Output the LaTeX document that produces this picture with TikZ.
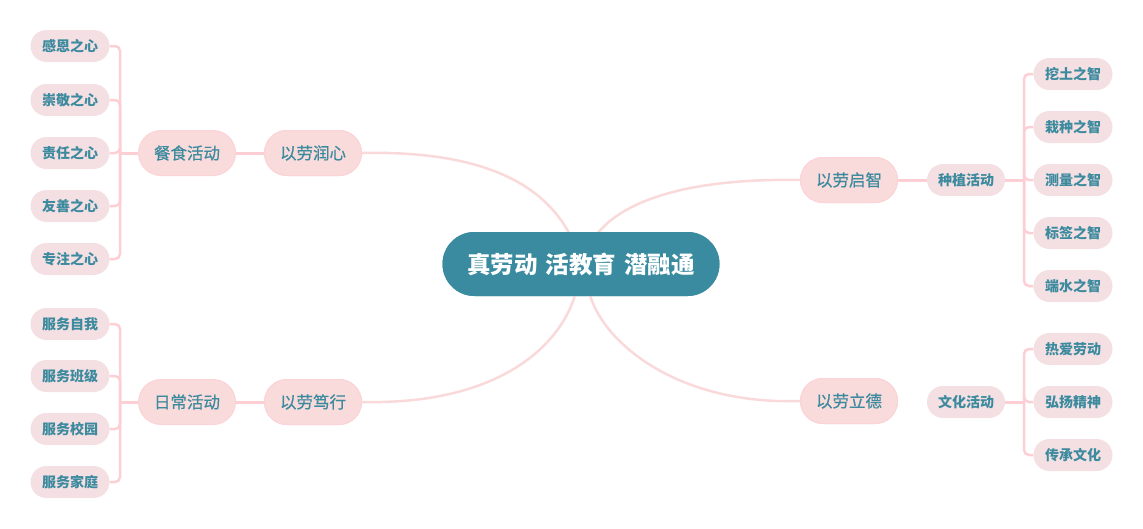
\documentclass[tikz,border=0pt]{standalone}
\usepackage{fontspec}
\setmainfont{Noto Sans CJK SC}
\newfontfamily\medf[FakeBold=0.5]{Noto Sans CJK SC}
\usetikzlibrary{calc}
\definecolor{rootc}{HTML}{3A8BA0}
\definecolor{txtc}{HTML}{3B8A9E}
\definecolor{mainc}{HTML}{FADBDB}
\definecolor{mainb}{HTML}{FCD3D6}
\definecolor{leafc}{HTML}{F4DFE3}
\definecolor{brc}{HTML}{FDCFD4}
\definecolor{curvc}{HTML}{F9D9D9}
\tikzset{
  root/.style={fill=rootc,text=white,font=\bfseries\fontsize{23.5}{27}\selectfont,minimum width=277pt,minimum height=64pt,rounded corners=32pt,inner sep=0pt},
  mainn/.style={fill=mainc,draw=mainb,line width=1pt,text=txtc,font=\medf\fontsize{16.5}{19}\selectfont,minimum width=97pt,minimum height=45pt,rounded corners=22.5pt,inner sep=0pt},
  subn/.style={fill=leafc,text=txtc,font=\bfseries\fontsize{14}{16}\selectfont,minimum width=78pt,minimum height=32pt,rounded corners=16pt,inner sep=0pt},
  leafn/.style={fill=leafc,text=txtc,font=\bfseries\fontsize{14}{16}\selectfont,minimum width=79pt,minimum height=32pt,rounded corners=16pt,inner sep=0pt},
  br/.style={draw=brc,line width=2.5pt,rounded corners=5pt},
  link/.style={draw=brc,line width=3pt},
  curv/.style={draw=curvc,line width=2.5pt}
}
\begin{document}
\begin{tikzpicture}[x=1pt,y=-1pt]
\useasboundingbox (0,0) rectangle (1143,528);
\node[root] (root) at (581,264) {真劳动\hspace{0.35em}活教育\hspace{0.35em}潜融通};
\node[mainn] (m1) at (313,153) {以劳润心};
\node[mainn] (m2) at (313,402) {以劳笃行};
\node[mainn] (m3) at (849,180) {以劳启智};
\node[mainn] (m4) at (849,401) {以劳立德};
\node[mainn] (s1) at (187,153) {餐食活动};
\node[mainn] (s2) at (187,402) {日常活动};
\node[subn] (s3) at (966,180) {种植活动};
\node[subn] (s4) at (966,402) {文化活动};
% leaves left
\node[leafn] (a1) at (70,46) {感恩之心};
\node[leafn] (a2) at (70,100) {崇敬之心};
\node[leafn] (a3) at (70,153) {责任之心};
\node[leafn] (a4) at (70,206) {友善之心};
\node[leafn] (a5) at (70,259) {专注之心};
\node[leafn] (b1) at (70,324) {服务自我};
\node[leafn] (b2) at (70,376) {服务班级};
\node[leafn] (b3) at (70,429) {服务校园};
\node[leafn] (b4) at (70,482) {服务家庭};
% leaves right
\node[leafn] (c1) at (1073,74) {挖土之智};
\node[leafn] (c2) at (1073,127) {栽种之智};
\node[leafn] (c3) at (1073,180) {测量之智};
\node[leafn] (c4) at (1073,233) {标签之智};
\node[leafn] (c5) at (1073,286) {端水之智};
\node[leafn] (d1) at (1073,349) {热爱劳动};
\node[leafn] (d2) at (1073,402) {弘扬精神};
\node[leafn] (d3) at (1073,455) {传承文化};
% junctions
\coordinate (ja) at (120,153);
\coordinate (jb) at (120,402);
\coordinate (jc) at (1024,180);
\coordinate (jd) at (1024,402);
% curves
\draw[curv] (m1.east) .. controls (500,150) and (548,195) .. ($(root.north)+(-12,1)$);
\draw[curv] (m3.west) .. controls (690,178) and (625,200) .. ($(root.north)+(17,1)$);
\draw[curv] (m2.east) .. controls (500,405) and (560,345) .. ($(root.south)+(-6,-1)$);
\draw[curv] (m4.west) .. controls (680,405) and (605,345) .. ($(root.south)+(9,-1)$);
% links
\draw[link] (m1.west) -- (s1.east);
\draw[link] (m2.west) -- (s2.east);
\draw[link] (m3.east) -- (s3.west);
% brackets
\draw[link] (s1.west) -- (ja);
\draw[link] (s2.west) -- (jb);
\draw[link] (s3.east) -- (jc);
\draw[link] (s4.east) -- (jd);
\foreach \n in {a1,a2,a3,a4,a5} \draw[br] (ja) |- (\n.east);
\foreach \n in {b1,b2,b3,b4} \draw[br] (jb) |- (\n.east);
\foreach \n in {c1,c2,c3,c4,c5} \draw[br] (jc) |- (\n.west);
\foreach \n in {d1,d2,d3} \draw[br] (jd) |- (\n.west);
% redraw nodes on top of curves
\node[root] at (root) {真劳动\hspace{0.35em}活教育\hspace{0.35em}潜融通};
\node[mainn] at (m1) {以劳润心};
\node[mainn] at (m2) {以劳笃行};
\node[mainn] at (m3) {以劳启智};
\node[mainn] at (m4) {以劳立德};
\end{tikzpicture}
\end{document}
